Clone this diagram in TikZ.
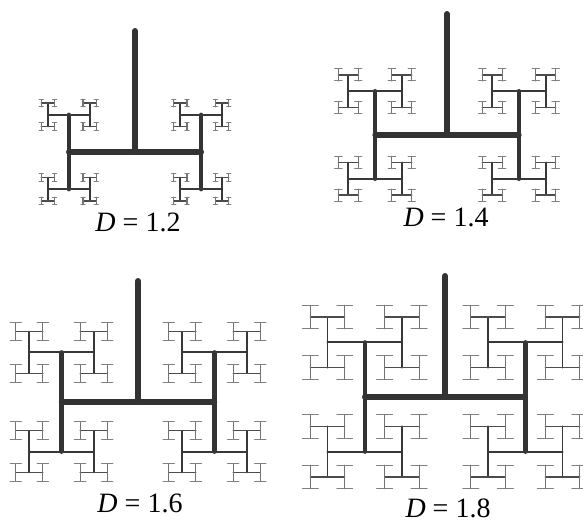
\documentclass[tikz,border=0pt]{standalone}
\usepackage{fontspec}
\setmainfont{Liberation Serif}
\usepackage{tikz}

% depth, widths and greys of the H-tree levels
\newcommand{\hdepth}{7}
\newcommand{\segwidth}[1]{\ifcase#1 6\or5.4\or4.4\or2.2\or1.8\or1.4\or1.2\else1.0\fi}
\newcommand{\segcolor}[1]{\ifcase#1 black!80\or black!80\or black!80\or black!78\or black!78\or black!70\or black!55\else black!50\fi}

% #1,#2 centre, #3 half length, #4 level, #5 0 = across, 1 = up and down
\newcommand{\hbranch}[5]{%
  \ifnum#4>\hdepth\relax\else
  \begingroup
    \ifnum#5=0
      \pgfmathsetmacro{\ax}{#1-#3}\pgfmathsetmacro{\bx}{#1+#3}%
      \edef\ay{#2}\edef\by{#2}%
    \else
      \edef\ax{#1}\edef\bx{#1}%
      \pgfmathsetmacro{\ay}{#2-#3}\pgfmathsetmacro{\by}{#2+#3}%
    \fi
    \edef\segw{\segwidth{#4}}\edef\segc{\segcolor{#4}}%
    \draw[hline, line width=\segw pt, draw=\segc] (\ax,\ay) -- (\bx,\by);
    \pgfmathsetmacro{\nlen}{#3*\hratio}%
    \pgfmathtruncatemacro{\nlev}{#4+1}%
    \pgfmathtruncatemacro{\norient}{1-#5}%
    \edef\hcall{\noexpand\hbranch{\ax}{\ay}{\nlen}{\nlev}{\norient}}\hcall
    \edef\hcall{\noexpand\hbranch{\bx}{\by}{\nlen}{\nlev}{\norient}}\hcall
  \endgroup
  \fi}

\begin{document}
\begin{tikzpicture}[
  x=1pt, y=-1pt,
  trunk/.style={line width=6pt, draw=black!80, line cap=round},
  hline/.style={line cap=round},
  dlabel/.style={font=\fontsize{28}{30}\selectfont, inner sep=0pt},
]
  \clip (0,0) rectangle (583,523);

  % Four H-trees
  \foreach \cx/\jy/\dd/\lx/\ly [count=\i] in {135/152/1.2/138/222, 447/135/1.4/446/217,
                                              138/402/1.6/140/503, 445/397/1.8/448/508} {
    \pgfmathsetmacro{\hratio}{exp(-ln(2)/\dd)}
    \pgfmathsetmacro{\hfirst}{118*\hratio}
    \draw[trunk] (\cx,\jy) -- (\cx,\jy-121);
    \hbranch{\cx}{\jy}{\hfirst}{1}{0}
    \node[dlabel] (lab\i) at (\lx,\ly) {\textit{D} = \dd};
  }

\end{tikzpicture}
\end{document}
